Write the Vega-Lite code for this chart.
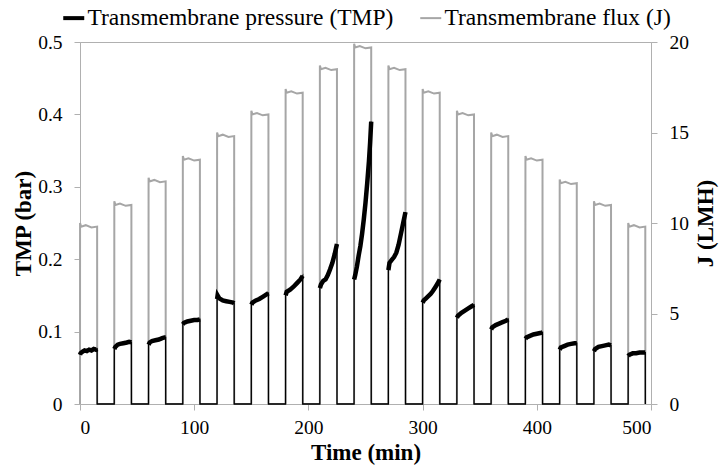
{
  "$schema": "https://vega.github.io/schema/vega-lite/v6.json",
  "width": 571,
  "height": 362,
  "autosize": "none",
  "padding": {"left": 80, "top": 42, "right": 68, "bottom": 67},
  "background": "white",
  "config": {
    "font": "Liberation Serif, Times New Roman, serif",
    "view": {"stroke": "#b0b0b0", "strokeWidth": 1},
    "axis": {
      "grid": false,
      "domainColor": "#b0b0b0",
      "tickColor": "#b0b0b0",
      "tickSize": 6,
      "labelFont": "Liberation Serif, Times New Roman, serif",
      "labelFontSize": 19.5,
      "labelColor": "black",
      "titleFont": "Liberation Serif, Times New Roman, serif",
      "titleFontSize": 23,
      "titleFontWeight": "bold",
      "titleColor": "black"
    },
    "legend": {
      "labelFont": "Liberation Serif, Times New Roman, serif"
    }
  },
  "datasets": {
    "flux": [
      {"t": 0, "j": 0}, {"t": 0.05, "j": 10.0}, {"t": 1, "j": 9.8}, {"t": 5, "j": 9.88}, {"t": 10, "j": 9.75}, {"t": 15, "j": 9.8}, {"t": 15.05, "j": 0},
      {"t": 30, "j": 0}, {"t": 30.05, "j": 11.2}, {"t": 31, "j": 11.0}, {"t": 35, "j": 11.08}, {"t": 40, "j": 10.95}, {"t": 45, "j": 11.0}, {"t": 45.05, "j": 0},
      {"t": 60, "j": 0}, {"t": 60.05, "j": 12.5}, {"t": 61, "j": 12.3}, {"t": 65, "j": 12.38}, {"t": 70, "j": 12.25}, {"t": 75, "j": 12.3}, {"t": 75.05, "j": 0},
      {"t": 90, "j": 0}, {"t": 90.05, "j": 13.7}, {"t": 91, "j": 13.5}, {"t": 95, "j": 13.58}, {"t": 100, "j": 13.45}, {"t": 105, "j": 13.5}, {"t": 105.05, "j": 0},
      {"t": 120, "j": 0}, {"t": 120.05, "j": 15.0}, {"t": 121, "j": 14.8}, {"t": 125, "j": 14.88}, {"t": 130, "j": 14.75}, {"t": 135, "j": 14.8}, {"t": 135.05, "j": 0},
      {"t": 150, "j": 0}, {"t": 150.05, "j": 16.2}, {"t": 151, "j": 16.0}, {"t": 155, "j": 16.08}, {"t": 160, "j": 15.95}, {"t": 165, "j": 16.0}, {"t": 165.05, "j": 0},
      {"t": 180, "j": 0}, {"t": 180.05, "j": 17.4}, {"t": 181, "j": 17.2}, {"t": 185, "j": 17.28}, {"t": 190, "j": 17.15}, {"t": 195, "j": 17.2}, {"t": 195.05, "j": 0},
      {"t": 210, "j": 0}, {"t": 210.05, "j": 18.7}, {"t": 211, "j": 18.5}, {"t": 215, "j": 18.58}, {"t": 220, "j": 18.45}, {"t": 225, "j": 18.5}, {"t": 225.05, "j": 0},
      {"t": 240, "j": 0}, {"t": 240.05, "j": 19.9}, {"t": 241, "j": 19.7}, {"t": 245, "j": 19.78}, {"t": 250, "j": 19.65}, {"t": 255, "j": 19.7}, {"t": 255.05, "j": 0},
      {"t": 270, "j": 0}, {"t": 270.05, "j": 18.7}, {"t": 271, "j": 18.5}, {"t": 275, "j": 18.58}, {"t": 280, "j": 18.45}, {"t": 285, "j": 18.5}, {"t": 285.05, "j": 0},
      {"t": 300, "j": 0}, {"t": 300.05, "j": 17.4}, {"t": 301, "j": 17.2}, {"t": 305, "j": 17.28}, {"t": 310, "j": 17.15}, {"t": 315, "j": 17.2}, {"t": 315.05, "j": 0},
      {"t": 330, "j": 0}, {"t": 330.05, "j": 16.2}, {"t": 331, "j": 16.0}, {"t": 335, "j": 16.08}, {"t": 340, "j": 15.95}, {"t": 345, "j": 16.0}, {"t": 345.05, "j": 0},
      {"t": 360, "j": 0}, {"t": 360.05, "j": 15.0}, {"t": 361, "j": 14.8}, {"t": 365, "j": 14.88}, {"t": 370, "j": 14.75}, {"t": 375, "j": 14.8}, {"t": 375.05, "j": 0},
      {"t": 390, "j": 0}, {"t": 390.05, "j": 13.7}, {"t": 391, "j": 13.5}, {"t": 395, "j": 13.58}, {"t": 400, "j": 13.45}, {"t": 405, "j": 13.5}, {"t": 405.05, "j": 0},
      {"t": 420, "j": 0}, {"t": 420.05, "j": 12.4}, {"t": 421, "j": 12.2}, {"t": 425, "j": 12.28}, {"t": 430, "j": 12.15}, {"t": 435, "j": 12.2}, {"t": 435.05, "j": 0},
      {"t": 450, "j": 0}, {"t": 450.05, "j": 11.2}, {"t": 451, "j": 11.0}, {"t": 455, "j": 11.08}, {"t": 460, "j": 10.95}, {"t": 465, "j": 11.0}, {"t": 465.05, "j": 0},
      {"t": 480, "j": 0}, {"t": 480.05, "j": 10.0}, {"t": 481, "j": 9.8}, {"t": 485, "j": 9.88}, {"t": 490, "j": 9.75}, {"t": 495, "j": 9.8}, {"t": 495.05, "j": 0}
    ],
    "tmp": [
      {"t": 0, "p": 0.068, "k": 1}, {"t": 0.5, "p": 0.070, "k": 1}, {"t": 2, "p": 0.072, "k": 1}, {"t": 4, "p": 0.074, "k": 1}, {"t": 6, "p": 0.073, "k": 1}, {"t": 8, "p": 0.075, "k": 1}, {"t": 10, "p": 0.074, "k": 1}, {"t": 12, "p": 0.076, "k": 1}, {"t": 14, "p": 0.075, "k": 1}, {"t": 15, "p": 0.076, "k": 1}, {"t": 15.05, "p": 0, "k": 0},
      {"t": 30, "p": 0, "k": 0}, {"t": 30.05, "p": 0.076, "k": 2}, {"t": 31, "p": 0.079, "k": 2}, {"t": 33, "p": 0.082, "k": 2}, {"t": 35, "p": 0.083, "k": 2}, {"t": 38, "p": 0.084, "k": 2}, {"t": 41, "p": 0.085, "k": 2}, {"t": 43, "p": 0.086, "k": 2}, {"t": 45, "p": 0.085, "k": 2}, {"t": 45.05, "p": 0, "k": 0},
      {"t": 60, "p": 0, "k": 0}, {"t": 60.05, "p": 0.082, "k": 3}, {"t": 61, "p": 0.085, "k": 3}, {"t": 63, "p": 0.087, "k": 3}, {"t": 66, "p": 0.088, "k": 3}, {"t": 69, "p": 0.089, "k": 3}, {"t": 72, "p": 0.091, "k": 3}, {"t": 74, "p": 0.092, "k": 3}, {"t": 75, "p": 0.092, "k": 3}, {"t": 75.05, "p": 0, "k": 0},
      {"t": 90, "p": 0, "k": 0}, {"t": 90.05, "p": 0.110, "k": 4}, {"t": 91, "p": 0.112, "k": 4}, {"t": 94, "p": 0.114, "k": 4}, {"t": 97, "p": 0.115, "k": 4}, {"t": 100, "p": 0.116, "k": 4}, {"t": 103, "p": 0.116, "k": 4}, {"t": 105, "p": 0.117, "k": 4}, {"t": 105.05, "p": 0, "k": 0},
      {"t": 120, "p": 0, "k": 0}, {"t": 120.05, "p": 0.145, "k": 5}, {"t": 120.5, "p": 0.150, "k": 5}, {"t": 122, "p": 0.146, "k": 5}, {"t": 125, "p": 0.143, "k": 5}, {"t": 128, "p": 0.142, "k": 5}, {"t": 131, "p": 0.141, "k": 5}, {"t": 134, "p": 0.140, "k": 5}, {"t": 135, "p": 0.139, "k": 5}, {"t": 135.05, "p": 0, "k": 0},
      {"t": 150, "p": 0, "k": 0}, {"t": 150.05, "p": 0.137, "k": 6}, {"t": 151, "p": 0.140, "k": 6}, {"t": 154, "p": 0.143, "k": 6}, {"t": 157, "p": 0.145, "k": 6}, {"t": 160, "p": 0.148, "k": 6}, {"t": 163, "p": 0.151, "k": 6}, {"t": 165, "p": 0.153, "k": 6}, {"t": 165.05, "p": 0, "k": 0},
      {"t": 180, "p": 0, "k": 0}, {"t": 180.05, "p": 0.150, "k": 7}, {"t": 181, "p": 0.155, "k": 7}, {"t": 184, "p": 0.158, "k": 7}, {"t": 187, "p": 0.162, "k": 7}, {"t": 190, "p": 0.167, "k": 7}, {"t": 193, "p": 0.172, "k": 7}, {"t": 195, "p": 0.177, "k": 7}, {"t": 195.05, "p": 0, "k": 0},
      {"t": 210, "p": 0, "k": 0}, {"t": 210.05, "p": 0.160, "k": 8}, {"t": 211, "p": 0.165, "k": 8}, {"t": 213, "p": 0.170, "k": 8}, {"t": 215, "p": 0.172, "k": 8}, {"t": 217, "p": 0.178, "k": 8}, {"t": 219, "p": 0.186, "k": 8}, {"t": 221, "p": 0.195, "k": 8}, {"t": 223, "p": 0.207, "k": 8}, {"t": 225, "p": 0.221, "k": 8}, {"t": 225.05, "p": 0, "k": 0},
      {"t": 240, "p": 0, "k": 0}, {"t": 240.05, "p": 0.172, "k": 9}, {"t": 241, "p": 0.178, "k": 9}, {"t": 242.5, "p": 0.190, "k": 9}, {"t": 244, "p": 0.205, "k": 9}, {"t": 245.5, "p": 0.218, "k": 9}, {"t": 247, "p": 0.235, "k": 9}, {"t": 248.5, "p": 0.255, "k": 9}, {"t": 250, "p": 0.278, "k": 9}, {"t": 251.5, "p": 0.305, "k": 9}, {"t": 253, "p": 0.335, "k": 9}, {"t": 254, "p": 0.360, "k": 9}, {"t": 255, "p": 0.390, "k": 9}, {"t": 255.05, "p": 0, "k": 0},
      {"t": 270, "p": 0, "k": 0}, {"t": 270.05, "p": 0.185, "k": 10}, {"t": 271, "p": 0.195, "k": 10}, {"t": 273, "p": 0.199, "k": 10}, {"t": 275, "p": 0.203, "k": 10}, {"t": 277, "p": 0.209, "k": 10}, {"t": 279, "p": 0.220, "k": 10}, {"t": 281, "p": 0.235, "k": 10}, {"t": 283, "p": 0.250, "k": 10}, {"t": 285, "p": 0.265, "k": 10}, {"t": 285.05, "p": 0, "k": 0},
      {"t": 300, "p": 0, "k": 0}, {"t": 300.05, "p": 0.140, "k": 11}, {"t": 301, "p": 0.143, "k": 11}, {"t": 303, "p": 0.146, "k": 11}, {"t": 305, "p": 0.149, "k": 11}, {"t": 307, "p": 0.152, "k": 11}, {"t": 309, "p": 0.156, "k": 11}, {"t": 311, "p": 0.161, "k": 11}, {"t": 313, "p": 0.166, "k": 11}, {"t": 315, "p": 0.172, "k": 11}, {"t": 315.05, "p": 0, "k": 0},
      {"t": 330, "p": 0, "k": 0}, {"t": 330.05, "p": 0.119, "k": 12}, {"t": 331, "p": 0.122, "k": 12}, {"t": 334, "p": 0.126, "k": 12}, {"t": 337, "p": 0.129, "k": 12}, {"t": 340, "p": 0.132, "k": 12}, {"t": 343, "p": 0.135, "k": 12}, {"t": 345, "p": 0.137, "k": 12}, {"t": 345.05, "p": 0, "k": 0},
      {"t": 360, "p": 0, "k": 0}, {"t": 360.05, "p": 0.103, "k": 13}, {"t": 361, "p": 0.106, "k": 13}, {"t": 364, "p": 0.109, "k": 13}, {"t": 367, "p": 0.111, "k": 13}, {"t": 370, "p": 0.113, "k": 13}, {"t": 373, "p": 0.115, "k": 13}, {"t": 375, "p": 0.117, "k": 13}, {"t": 375.05, "p": 0, "k": 0},
      {"t": 390, "p": 0, "k": 0}, {"t": 390.05, "p": 0.090, "k": 14}, {"t": 391, "p": 0.092, "k": 14}, {"t": 394, "p": 0.094, "k": 14}, {"t": 397, "p": 0.096, "k": 14}, {"t": 400, "p": 0.097, "k": 14}, {"t": 403, "p": 0.098, "k": 14}, {"t": 405, "p": 0.099, "k": 14}, {"t": 405.05, "p": 0, "k": 0},
      {"t": 420, "p": 0, "k": 0}, {"t": 420.05, "p": 0.075, "k": 15}, {"t": 421, "p": 0.078, "k": 15}, {"t": 424, "p": 0.080, "k": 15}, {"t": 427, "p": 0.082, "k": 15}, {"t": 430, "p": 0.083, "k": 15}, {"t": 433, "p": 0.084, "k": 15}, {"t": 435, "p": 0.084, "k": 15}, {"t": 435.05, "p": 0, "k": 0},
      {"t": 450, "p": 0, "k": 0}, {"t": 450.05, "p": 0.073, "k": 16}, {"t": 451, "p": 0.076, "k": 16}, {"t": 454, "p": 0.079, "k": 16}, {"t": 457, "p": 0.080, "k": 16}, {"t": 460, "p": 0.081, "k": 16}, {"t": 463, "p": 0.082, "k": 16}, {"t": 465, "p": 0.081, "k": 16}, {"t": 465.05, "p": 0, "k": 0},
      {"t": 480, "p": 0, "k": 0}, {"t": 480.05, "p": 0.066, "k": 17}, {"t": 481, "p": 0.068, "k": 17}, {"t": 484, "p": 0.070, "k": 17}, {"t": 487, "p": 0.070, "k": 17}, {"t": 490, "p": 0.071, "k": 17}, {"t": 493, "p": 0.071, "k": 17}, {"t": 495, "p": 0.071, "k": 17}, {"t": 495.05, "p": 0, "k": 0}
    ]
  },
  "layer": [
    {
      "data": {"name": "flux"},
      "mark": {"type": "line", "strokeWidth": 2, "interpolate": "linear"},
      "encoding": {
        "x": {
          "field": "t", "type": "quantitative", "scale": {"domain": [0, 500]},
          "axis": {"title": "Time (min)", "values": [0, 100, 200, 300, 400, 500], "labelPadding": 8, "titlePadding": 5}
        },
        "y": {
          "field": "j", "type": "quantitative",
          "scale": {"domain": [0, 20]},
          "axis": {"orient": "right", "title": "J (LMH)", "values": [0, 5, 10, 15, 20], "labelPadding": 12, "titleAngle": -90, "titleX": 54, "titleY": 181, "titleAlign": "center", "titleBaseline": "middle"}
        },
        "color": {
          "datum": "Transmembrane flux (J)",
          "scale": {"domain": ["Transmembrane pressure (TMP)", "Transmembrane flux (J)"], "range": ["#000000", "#a6a6a6"]},
          "legend": {
            "orient": "none", "legendX": -18, "legendY": -36, "direction": "horizontal", "title": null,
            "symbolType": "stroke", "symbolSize": 441, "symbolStrokeWidth": 2,
            "labelFont": "Liberation Serif, Times New Roman, serif", "labelFontSize": 23.5, "labelColor": "black", "labelOffset": 2,
            "columnPadding": 22, "labelLimit": 500,
            "encode": {"symbols": {"update": {"strokeWidth": {"signal": "datum.value === 'Transmembrane pressure (TMP)' ? 4 : 2"}}}}
          }
        }
      }
    },
    {
      "data": {"name": "tmp"},
      "encoding": {
        "x": {
          "field": "t", "type": "quantitative", "scale": {"domain": [0, 500]},
          "axis": {"title": "Time (min)", "values": [0, 100, 200, 300, 400, 500], "labelPadding": 8, "titlePadding": 5}
        },
        "y": {
          "field": "p", "type": "quantitative",
          "scale": {"domain": [0, 0.5]},
          "axis": {"orient": "left", "title": "TMP (bar)", "values": [0, 0.1, 0.2, 0.3, 0.4, 0.5], "format": "~g", "labelPadding": 12, "titleX": -57, "titleY": 181, "titleAlign": "center", "titleBaseline": "middle", "titleAngle": -90}
        },
        "color": {"datum": "Transmembrane pressure (TMP)"}
      },
      "layer": [
        {"mark": {"type": "line", "strokeWidth": 1.3}},
        {
          "transform": [{"filter": "datum.p > 0"}],
          "mark": {"type": "line", "strokeWidth": 4.5},
          "encoding": {"detail": {"field": "k", "type": "nominal"}}
        }
      ]
    }
  ],
  "resolve": {"scale": {"y": "independent"}}
}
